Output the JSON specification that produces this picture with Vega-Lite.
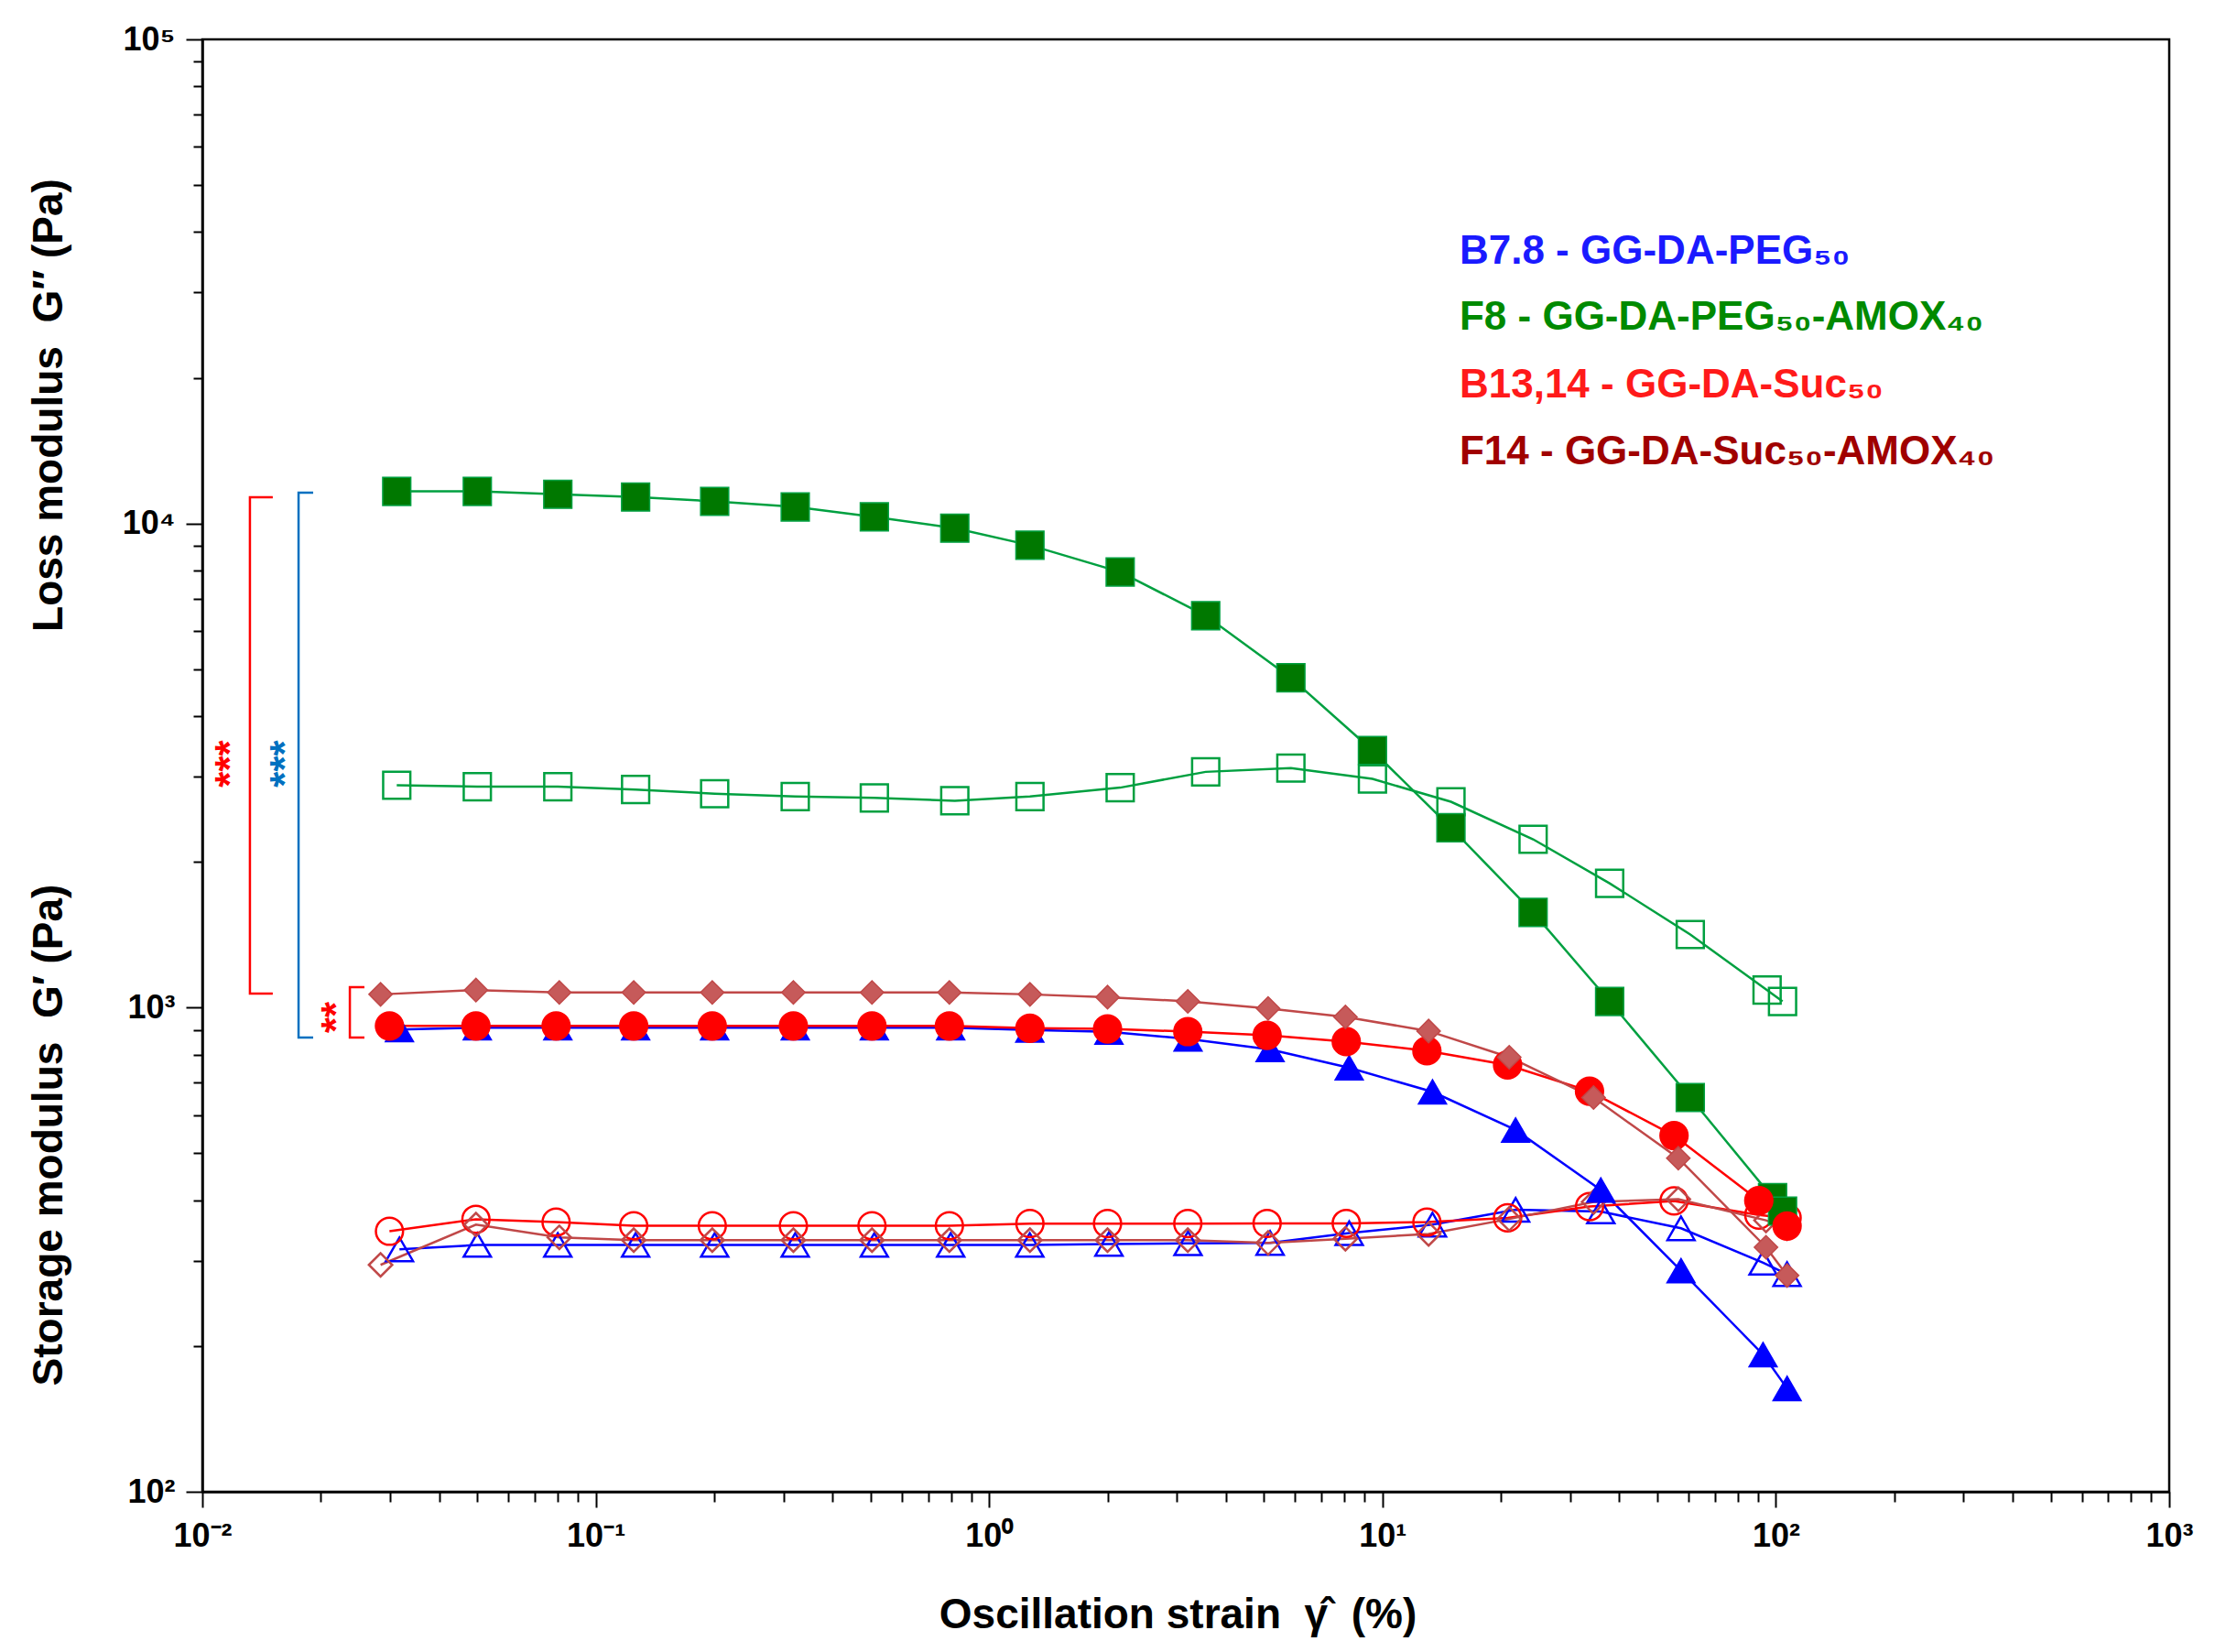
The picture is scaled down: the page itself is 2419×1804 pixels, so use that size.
{
  "$schema": "https://vega.github.io/schema/vega-lite/v6.json",
  "description": "Strain sweep: storage and loss modulus of GG-DA hydrogels",
  "width": 2148,
  "height": 1586,
  "autosize": {"type": "none"},
  "padding": {"left": 221, "top": 43, "right": 50, "bottom": 175},
  "background": "white",
  "datasets": {
    "curves": [
      {"sample": "B7.8", "kind": "G'", "strain": 0.0317, "modulus": 900.7},
      {"sample": "B7.8", "kind": "G'", "strain": 0.05, "modulus": 908.6},
      {"sample": "B7.8", "kind": "G'", "strain": 0.0801, "modulus": 908.6},
      {"sample": "B7.8", "kind": "G'", "strain": 0.1263, "modulus": 908.6},
      {"sample": "B7.8", "kind": "G'", "strain": 0.2006, "modulus": 908.6},
      {"sample": "B7.8", "kind": "G'", "strain": 0.3215, "modulus": 908.6},
      {"sample": "B7.8", "kind": "G'", "strain": 0.5108, "modulus": 908.6},
      {"sample": "B7.8", "kind": "G'", "strain": 0.7987, "modulus": 908.6},
      {"sample": "B7.8", "kind": "G'", "strain": 1.269, "modulus": 899.5},
      {"sample": "B7.8", "kind": "G'", "strain": 2.017, "modulus": 890.9},
      {"sample": "B7.8", "kind": "G'", "strain": 3.204, "modulus": 861.5},
      {"sample": "B7.8", "kind": "G'", "strain": 5.18, "modulus": 819.7},
      {"sample": "B7.8", "kind": "G'", "strain": 8.23, "modulus": 751.2},
      {"sample": "B7.8", "kind": "G'", "strain": 13.4, "modulus": 670},
      {"sample": "B7.8", "kind": "G'", "strain": 21.8, "modulus": 558.8},
      {"sample": "B7.8", "kind": "G'", "strain": 35.9, "modulus": 420.1},
      {"sample": "B7.8", "kind": "G'", "strain": 57.4, "modulus": 286.2},
      {"sample": "B7.8", "kind": "G'", "strain": 92.8, "modulus": 192},
      {"sample": "B7.8", "kind": "G'", "strain": 106.8, "modulus": 163.5},
      {"sample": "B7.8", "kind": "G''", "strain": 0.0317, "modulus": 316.7},
      {"sample": "B7.8", "kind": "G''", "strain": 0.05, "modulus": 323.4},
      {"sample": "B7.8", "kind": "G''", "strain": 0.0801, "modulus": 323.4},
      {"sample": "B7.8", "kind": "G''", "strain": 0.1263, "modulus": 323.4},
      {"sample": "B7.8", "kind": "G''", "strain": 0.2006, "modulus": 323.4},
      {"sample": "B7.8", "kind": "G''", "strain": 0.3215, "modulus": 323.4},
      {"sample": "B7.8", "kind": "G''", "strain": 0.5108, "modulus": 323.4},
      {"sample": "B7.8", "kind": "G''", "strain": 0.7987, "modulus": 323.4},
      {"sample": "B7.8", "kind": "G''", "strain": 1.269, "modulus": 323.4},
      {"sample": "B7.8", "kind": "G''", "strain": 2.017, "modulus": 325},
      {"sample": "B7.8", "kind": "G''", "strain": 3.204, "modulus": 326},
      {"sample": "B7.8", "kind": "G''", "strain": 5.18, "modulus": 326.5},
      {"sample": "B7.8", "kind": "G''", "strain": 8.23, "modulus": 342.1},
      {"sample": "B7.8", "kind": "G''", "strain": 13.4, "modulus": 356.2},
      {"sample": "B7.8", "kind": "G''", "strain": 21.8, "modulus": 382.3},
      {"sample": "B7.8", "kind": "G''", "strain": 35.9, "modulus": 379.2},
      {"sample": "B7.8", "kind": "G''", "strain": 57.4, "modulus": 350.1},
      {"sample": "B7.8", "kind": "G''", "strain": 92.8, "modulus": 297.2},
      {"sample": "B7.8", "kind": "G''", "strain": 106.8, "modulus": 281.6},
      {"sample": "F8", "kind": "G'", "strain": 0.0312, "modulus": 11650},
      {"sample": "F8", "kind": "G'", "strain": 0.05, "modulus": 11650},
      {"sample": "F8", "kind": "G'", "strain": 0.0801, "modulus": 11490},
      {"sample": "F8", "kind": "G'", "strain": 0.1263, "modulus": 11340},
      {"sample": "F8", "kind": "G'", "strain": 0.2006, "modulus": 11110},
      {"sample": "F8", "kind": "G'", "strain": 0.3215, "modulus": 10820},
      {"sample": "F8", "kind": "G'", "strain": 0.5108, "modulus": 10320},
      {"sample": "F8", "kind": "G'", "strain": 0.818, "modulus": 9780},
      {"sample": "F8", "kind": "G'", "strain": 1.27, "modulus": 9020},
      {"sample": "F8", "kind": "G'", "strain": 2.154, "modulus": 7940},
      {"sample": "F8", "kind": "G'", "strain": 3.553, "modulus": 6450},
      {"sample": "F8", "kind": "G'", "strain": 5.85, "modulus": 4800},
      {"sample": "F8", "kind": "G'", "strain": 9.43, "modulus": 3398},
      {"sample": "F8", "kind": "G'", "strain": 14.93, "modulus": 2353},
      {"sample": "F8", "kind": "G'", "strain": 24.15, "modulus": 1573},
      {"sample": "F8", "kind": "G'", "strain": 37.8, "modulus": 1030},
      {"sample": "F8", "kind": "G'", "strain": 60.6, "modulus": 652},
      {"sample": "F8", "kind": "G'", "strain": 98.1, "modulus": 405},
      {"sample": "F8", "kind": "G'", "strain": 104.0, "modulus": 380},
      {"sample": "F8", "kind": "G''", "strain": 0.0312, "modulus": 2880},
      {"sample": "F8", "kind": "G''", "strain": 0.05, "modulus": 2860},
      {"sample": "F8", "kind": "G''", "strain": 0.0801, "modulus": 2860},
      {"sample": "F8", "kind": "G''", "strain": 0.1263, "modulus": 2822},
      {"sample": "F8", "kind": "G''", "strain": 0.2006, "modulus": 2766},
      {"sample": "F8", "kind": "G''", "strain": 0.3215, "modulus": 2729},
      {"sample": "F8", "kind": "G''", "strain": 0.5108, "modulus": 2711},
      {"sample": "F8", "kind": "G''", "strain": 0.818, "modulus": 2675},
      {"sample": "F8", "kind": "G''", "strain": 1.27, "modulus": 2729},
      {"sample": "F8", "kind": "G''", "strain": 2.154, "modulus": 2847},
      {"sample": "F8", "kind": "G''", "strain": 3.553, "modulus": 3069},
      {"sample": "F8", "kind": "G''", "strain": 5.85, "modulus": 3125},
      {"sample": "F8", "kind": "G''", "strain": 9.43, "modulus": 2968},
      {"sample": "F8", "kind": "G''", "strain": 14.93, "modulus": 2662},
      {"sample": "F8", "kind": "G''", "strain": 24.15, "modulus": 2227},
      {"sample": "F8", "kind": "G''", "strain": 37.8, "modulus": 1806},
      {"sample": "F8", "kind": "G''", "strain": 60.6, "modulus": 1416},
      {"sample": "F8", "kind": "G''", "strain": 95.0, "modulus": 1087},
      {"sample": "F8", "kind": "G''", "strain": 104.0, "modulus": 1030},
      {"sample": "B13,14", "kind": "G'", "strain": 0.0299, "modulus": 916.6},
      {"sample": "B13,14", "kind": "G'", "strain": 0.0496, "modulus": 916.6},
      {"sample": "B13,14", "kind": "G'", "strain": 0.0793, "modulus": 916.6},
      {"sample": "B13,14", "kind": "G'", "strain": 0.1249, "modulus": 916.6},
      {"sample": "B13,14", "kind": "G'", "strain": 0.1978, "modulus": 916.6},
      {"sample": "B13,14", "kind": "G'", "strain": 0.318, "modulus": 916.6},
      {"sample": "B13,14", "kind": "G'", "strain": 0.5038, "modulus": 916.6},
      {"sample": "B13,14", "kind": "G'", "strain": 0.7925, "modulus": 916.6},
      {"sample": "B13,14", "kind": "G'", "strain": 1.27, "modulus": 906.8},
      {"sample": "B13,14", "kind": "G'", "strain": 2.0, "modulus": 903.7},
      {"sample": "B13,14", "kind": "G'", "strain": 3.2, "modulus": 892.2},
      {"sample": "B13,14", "kind": "G'", "strain": 5.09, "modulus": 876.7},
      {"sample": "B13,14", "kind": "G'", "strain": 8.09, "modulus": 850.7},
      {"sample": "B13,14", "kind": "G'", "strain": 12.97, "modulus": 814.3},
      {"sample": "B13,14", "kind": "G'", "strain": 20.8, "modulus": 761.3},
      {"sample": "B13,14", "kind": "G'", "strain": 33.6, "modulus": 672.1},
      {"sample": "B13,14", "kind": "G'", "strain": 55.1, "modulus": 544},
      {"sample": "B13,14", "kind": "G'", "strain": 90.5, "modulus": 399.4},
      {"sample": "B13,14", "kind": "G'", "strain": 106.8, "modulus": 353.9},
      {"sample": "B13,14", "kind": "G''", "strain": 0.0299, "modulus": 345.2},
      {"sample": "B13,14", "kind": "G''", "strain": 0.0496, "modulus": 365.4},
      {"sample": "B13,14", "kind": "G''", "strain": 0.0793, "modulus": 360.6},
      {"sample": "B13,14", "kind": "G''", "strain": 0.1249, "modulus": 354.4},
      {"sample": "B13,14", "kind": "G''", "strain": 0.1978, "modulus": 354.4},
      {"sample": "B13,14", "kind": "G''", "strain": 0.318, "modulus": 354.4},
      {"sample": "B13,14", "kind": "G''", "strain": 0.5038, "modulus": 354.4},
      {"sample": "B13,14", "kind": "G''", "strain": 0.7925, "modulus": 354.4},
      {"sample": "B13,14", "kind": "G''", "strain": 1.27, "modulus": 358},
      {"sample": "B13,14", "kind": "G''", "strain": 2.0, "modulus": 358},
      {"sample": "B13,14", "kind": "G''", "strain": 3.2, "modulus": 358},
      {"sample": "B13,14", "kind": "G''", "strain": 5.09, "modulus": 358.3},
      {"sample": "B13,14", "kind": "G''", "strain": 8.09, "modulus": 358.3},
      {"sample": "B13,14", "kind": "G''", "strain": 12.97, "modulus": 360.6},
      {"sample": "B13,14", "kind": "G''", "strain": 20.8, "modulus": 367.9},
      {"sample": "B13,14", "kind": "G''", "strain": 33.6, "modulus": 388.2},
      {"sample": "B13,14", "kind": "G''", "strain": 55.1, "modulus": 398.8},
      {"sample": "B13,14", "kind": "G''", "strain": 90.5, "modulus": 372.9},
      {"sample": "B13,14", "kind": "G''", "strain": 106.8, "modulus": 367.9},
      {"sample": "F14", "kind": "G'", "strain": 0.02838, "modulus": 1065},
      {"sample": "F14", "kind": "G'", "strain": 0.0496, "modulus": 1087},
      {"sample": "F14", "kind": "G'", "strain": 0.0808, "modulus": 1075},
      {"sample": "F14", "kind": "G'", "strain": 0.1249, "modulus": 1075},
      {"sample": "F14", "kind": "G'", "strain": 0.1978, "modulus": 1075},
      {"sample": "F14", "kind": "G'", "strain": 0.318, "modulus": 1075},
      {"sample": "F14", "kind": "G'", "strain": 0.5038, "modulus": 1075},
      {"sample": "F14", "kind": "G'", "strain": 0.7925, "modulus": 1075},
      {"sample": "F14", "kind": "G'", "strain": 1.27, "modulus": 1065},
      {"sample": "F14", "kind": "G'", "strain": 2.0, "modulus": 1051},
      {"sample": "F14", "kind": "G'", "strain": 3.2, "modulus": 1030},
      {"sample": "F14", "kind": "G'", "strain": 5.12, "modulus": 996},
      {"sample": "F14", "kind": "G'", "strain": 8.05, "modulus": 956.6},
      {"sample": "F14", "kind": "G'", "strain": 13.1, "modulus": 894.6},
      {"sample": "F14", "kind": "G'", "strain": 21.0, "modulus": 790},
      {"sample": "F14", "kind": "G'", "strain": 34.4, "modulus": 652},
      {"sample": "F14", "kind": "G'", "strain": 56.5, "modulus": 488.7},
      {"sample": "F14", "kind": "G'", "strain": 94.4, "modulus": 320},
      {"sample": "F14", "kind": "G'", "strain": 106.8, "modulus": 279.7},
      {"sample": "F14", "kind": "G''", "strain": 0.02838, "modulus": 294.2},
      {"sample": "F14", "kind": "G''", "strain": 0.0496, "modulus": 356.2},
      {"sample": "F14", "kind": "G''", "strain": 0.0808, "modulus": 335.3},
      {"sample": "F14", "kind": "G''", "strain": 0.1249, "modulus": 330.9},
      {"sample": "F14", "kind": "G''", "strain": 0.1978, "modulus": 330.9},
      {"sample": "F14", "kind": "G''", "strain": 0.318, "modulus": 330.9},
      {"sample": "F14", "kind": "G''", "strain": 0.5038, "modulus": 330.9},
      {"sample": "F14", "kind": "G''", "strain": 0.7925, "modulus": 330.9},
      {"sample": "F14", "kind": "G''", "strain": 1.27, "modulus": 330.9},
      {"sample": "F14", "kind": "G''", "strain": 2.0, "modulus": 330.9},
      {"sample": "F14", "kind": "G''", "strain": 3.2, "modulus": 330.9},
      {"sample": "F14", "kind": "G''", "strain": 5.12, "modulus": 326.5},
      {"sample": "F14", "kind": "G''", "strain": 8.05, "modulus": 333.1},
      {"sample": "F14", "kind": "G''", "strain": 13.1, "modulus": 340.8},
      {"sample": "F14", "kind": "G''", "strain": 21.0, "modulus": 366},
      {"sample": "F14", "kind": "G''", "strain": 34.4, "modulus": 396.7},
      {"sample": "F14", "kind": "G''", "strain": 56.5, "modulus": 402},
      {"sample": "F14", "kind": "G''", "strain": 94.4, "modulus": 363.6},
      {"sample": "F14", "kind": "G''", "strain": 106.8, "modulus": 350.1}
    ],
    "brackets": [
      {"bracket": "suc_big", "k": 1, "strain": 0.0151, "modulus": 11330},
      {"bracket": "suc_big", "k": 2, "strain": 0.01321, "modulus": 11330},
      {"bracket": "suc_big", "k": 3, "strain": 0.01321, "modulus": 1069},
      {"bracket": "suc_big", "k": 4, "strain": 0.0151, "modulus": 1069},
      {"bracket": "peg", "k": 1, "strain": 0.01913, "modulus": 11580},
      {"bracket": "peg", "k": 2, "strain": 0.01756, "modulus": 11580},
      {"bracket": "peg", "k": 3, "strain": 0.01756, "modulus": 867.5},
      {"bracket": "peg", "k": 4, "strain": 0.01913, "modulus": 867.5},
      {"bracket": "suc_small", "k": 1, "strain": 0.02582, "modulus": 1102},
      {"bracket": "suc_small", "k": 2, "strain": 0.02371, "modulus": 1102},
      {"bracket": "suc_small", "k": 3, "strain": 0.02371, "modulus": 867.5},
      {"bracket": "suc_small", "k": 4, "strain": 0.02582, "modulus": 867.5}
    ],
    "stars": [
      {"bracket": "suc_big", "label": "***", "strain": 0.01137, "modulus": 3190},
      {"bracket": "peg", "label": "***", "strain": 0.01569, "modulus": 3190},
      {"bracket": "suc_small", "label": "**", "strain": 0.02118, "modulus": 955}
    ],
    "labels": [
      {"sample": "B7.8", "label": "B7.8 - GG-DA-PEG₅₀", "strain": 15.7, "modulus": 36460},
      {"sample": "F8", "label": "F8 - GG-DA-PEG₅₀-AMOX₄₀", "strain": 15.7, "modulus": 26580},
      {"sample": "B13,14", "label": "B13,14 - GG-DA-Suc₅₀", "strain": 15.7, "modulus": 19260},
      {"sample": "F14", "label": "F14 - GG-DA-Suc₅₀-AMOX₄₀", "strain": 15.7, "modulus": 14040}
    ]
  },
  "resolve": {"axis": {"x": "independent", "y": "independent"}},
  "layer": [
    {
      "data": {"name": "curves"},
      "mark": {"type": "line", "strokeWidth": 2.5},
      "encoding": {
        "x": {
          "field": "strain",
          "type": "quantitative",
          "scale": {"type": "log", "domain": [0.01, 1000], "nice": false},
          "axis": {
            "orient": "bottom",
            "values": [0.01, 0.1, 1, 10, 100, 1000],
            "labelExpr": "'10' + (datum.value < 1 ? '⁻' : '') + ['⁰','¹','²','³','⁴','⁵'][abs(round(log(datum.value)/LN10))]",
            "tickSize": 17,
            "labelPadding": 14,
            "title": "Oscillation strain\u00a0\u00a0γ̂\u00a0\u00a0(%)",
            "titleX": 1065,
            "titleY": 134,
            "titleAlign": "center",
            "titleBaseline": "middle"
          }
        },
        "y": {
          "field": "modulus",
          "type": "quantitative",
          "scale": {"type": "log", "domain": [100, 100000], "nice": false},
          "axis": {
            "orient": "left",
            "values": [100, 1000, 10000, 100000],
            "labelExpr": "'10' + ['⁰','¹','²','³','⁴','⁵'][abs(round(log(datum.value)/LN10))]",
            "tickSize": 18,
            "labelPadding": 12,
            "title": "Storage modulus\u00a0\u00a0G′\u00a0(Pa)",
            "titleX": -168,
            "titleY": 1196,
            "titleAngle": 270,
            "titleAlign": "center",
            "titleBaseline": "middle"
          }
        },
        "stroke": {
          "field": "sample",
          "type": "nominal",
          "scale": {"domain": ["B7.8", "F8", "B13,14", "F14"], "range": ["#0000FF", "#00A040", "#FF0000", "#C04848"]},
          "legend": null
        },
        "detail": {"field": "kind"}
      }
    },
    {
      "data": {"name": "curves"},
      "transform": [{"filter": "datum.kind === \"G''\""}],
      "mark": {"type": "point", "filled": false, "opacity": 1, "strokeWidth": 2.5},
      "encoding": {
        "x": {"field": "strain", "type": "quantitative", "scale": {"type": "log", "domain": [0.01, 1000], "nice": false}, "axis": null},
        "y": {"field": "modulus", "type": "quantitative", "scale": {"type": "log", "domain": [100, 100000], "nice": false}, "axis": null},
        "shape": {
          "field": "sample",
          "type": "nominal",
          "scale": {"domain": ["B7.8", "F8", "B13,14", "F14"], "range": ["triangle-up", "square", "circle", "diamond"]},
          "legend": null
        },
        "stroke": {"field": "sample", "type": "nominal", "legend": null},
        "size": {"condition": {"test": "datum.sample === 'F14'", "value": 650}, "value": 880}
      }
    },
    {
      "data": {"name": "curves"},
      "transform": [{"filter": "datum.kind === \"G'\""}],
      "mark": {"type": "point", "filled": true, "opacity": 1, "strokeWidth": 1.5},
      "encoding": {
        "x": {"field": "strain", "type": "quantitative", "scale": {"type": "log", "domain": [0.01, 1000], "nice": false}, "axis": null},
        "y": {"field": "modulus", "type": "quantitative", "scale": {"type": "log", "domain": [100, 100000], "nice": false}, "axis": null},
        "shape": {"field": "sample", "type": "nominal", "legend": null},
        "fill": {
          "field": "sample",
          "type": "nominal",
          "scale": {"domain": ["B7.8", "F8", "B13,14", "F14"], "range": ["#0000FF", "#007800", "#FF0000", "#C65A5A"]},
          "legend": null
        },
        "stroke": {"field": "sample", "type": "nominal", "legend": null},
        "size": {"condition": {"test": "datum.sample === 'F14'", "value": 650}, "value": 940}
      }
    },
    {
      "data": {"name": "brackets"},
      "mark": {"type": "line", "strokeWidth": 2.5},
      "encoding": {
        "x": {
          "field": "strain",
          "type": "quantitative",
          "scale": {"type": "log", "domain": [0.01, 1000], "nice": false},
          "axis": {
            "orient": "bottom",
            "values": [0.02, 0.03, 0.04, 0.05, 0.06, 0.07, 0.08, 0.09, 0.2, 0.3, 0.4, 0.5, 0.6, 0.7, 0.8, 0.9, 2, 3, 4, 5, 6, 7, 8, 9, 20, 30, 40, 50, 60, 70, 80, 90, 200, 300, 400, 500, 600, 700, 800, 900],
            "domain": false,
            "labels": false,
            "tickSize": 11,
            "title": null
          }
        },
        "y": {
          "field": "modulus",
          "type": "quantitative",
          "scale": {"type": "log", "domain": [100, 100000], "nice": false},
          "axis": {
            "orient": "left",
            "values": [200, 300, 400, 500, 600, 700, 800, 900, 2000, 3000, 4000, 5000, 6000, 7000, 8000, 9000, 20000, 30000, 40000, 50000, 60000, 70000, 80000, 90000],
            "domain": false,
            "labels": false,
            "tickSize": 10,
            "title": "Loss modulus\u00a0\u00a0G″\u00a0(Pa)",
            "titleX": -168,
            "titleY": 399,
            "titleAngle": 270,
            "titleAlign": "center",
            "titleBaseline": "middle"
          }
        },
        "order": {"field": "k"},
        "detail": {"field": "bracket"},
        "stroke": {"condition": {"test": "datum.bracket === 'peg'", "value": "#0070C0"}, "value": "#FF0000"}
      }
    },
    {
      "data": {"name": "stars"},
      "mark": {"type": "text", "angle": 270, "fontSize": 44, "fontWeight": "bold", "align": "center", "baseline": "middle", "dy": 8},
      "encoding": {
        "x": {"field": "strain", "type": "quantitative", "scale": {"type": "log", "domain": [0.01, 1000], "nice": false}, "axis": null},
        "y": {"field": "modulus", "type": "quantitative", "scale": {"type": "log", "domain": [100, 100000], "nice": false}, "axis": null},
        "text": {"field": "label"},
        "fill": {"condition": {"test": "datum.bracket === 'peg'", "value": "#0070C0"}, "value": "#FF0000"}
      }
    },
    {
      "data": {"name": "labels"},
      "mark": {"type": "text", "fontSize": 44, "fontWeight": "bold", "align": "left", "baseline": "middle"},
      "encoding": {
        "x": {"field": "strain", "type": "quantitative", "scale": {"type": "log", "domain": [0.01, 1000], "nice": false}, "axis": null},
        "y": {"field": "modulus", "type": "quantitative", "scale": {"type": "log", "domain": [100, 100000], "nice": false}, "axis": null},
        "text": {"field": "label"},
        "fill": {
          "condition": [
            {"test": "datum.sample === 'B7.8'", "value": "#1A1AFF"},
            {"test": "datum.sample === 'F8'", "value": "#008A00"},
            {"test": "datum.sample === 'B13,14'", "value": "#FF1A1A"}
          ],
          "value": "#A00000"
        }
      }
    }
  ],
  "config": {
    "font": "Liberation Sans",
    "view": {"stroke": "#000000", "strokeWidth": 2.5},
    "axis": {
      "grid": false,
      "domainColor": "#000000",
      "domainWidth": 2.5,
      "tickColor": "#000000",
      "tickWidth": 2,
      "labelColor": "#000000",
      "labelFont": "Liberation Sans",
      "labelFontWeight": "bold",
      "labelFontSize": 36,
      "labelOverlap": false,
      "labelFlush": false,
      "titleFont": "Liberation Sans",
      "titleFontWeight": "bold",
      "titleFontSize": 46,
      "titleColor": "#000000"
    }
  }
}
